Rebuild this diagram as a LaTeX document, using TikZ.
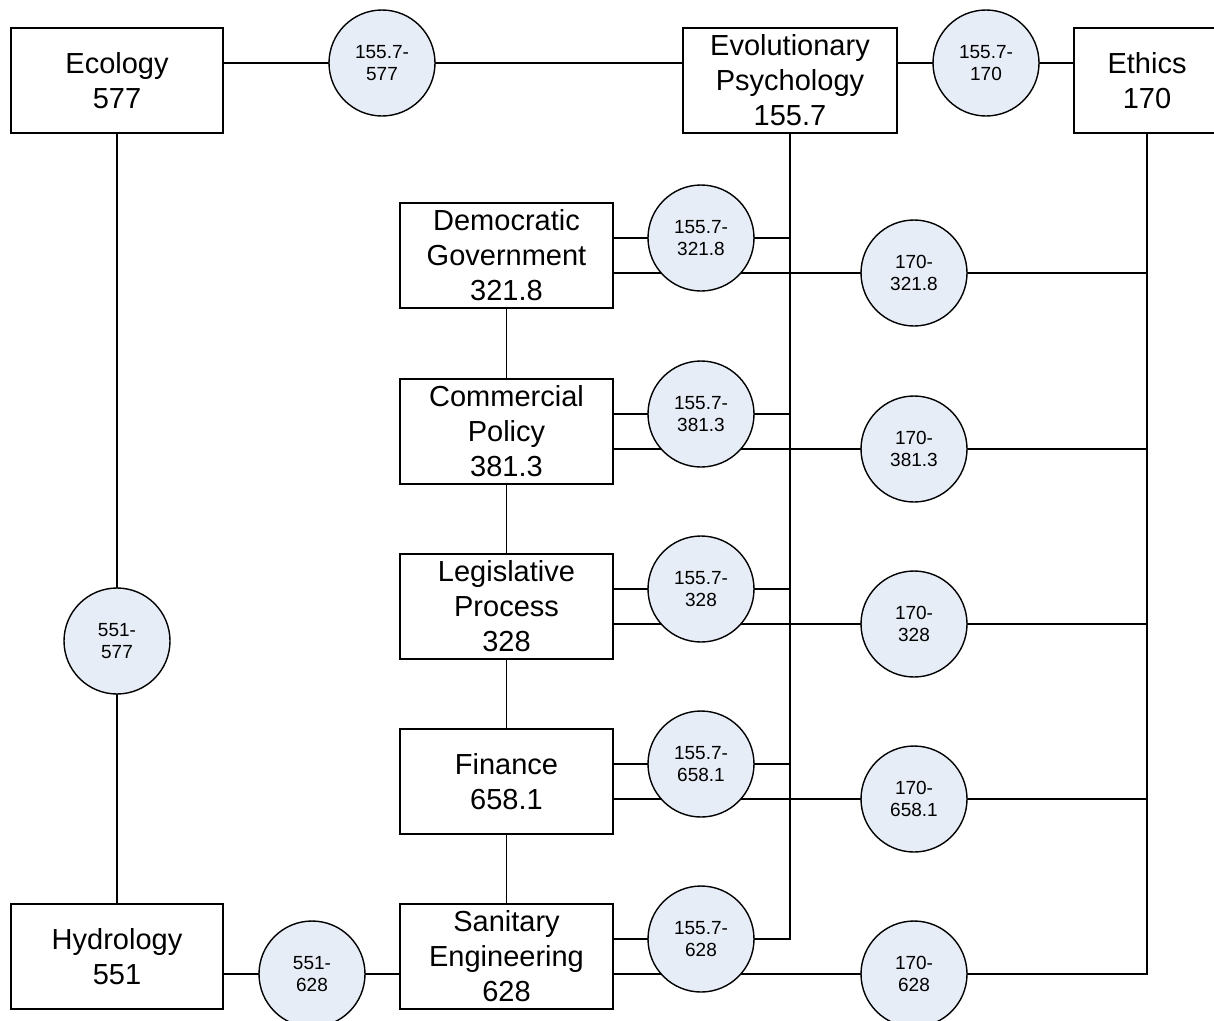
\documentclass[tikz,border=0pt]{standalone}
\usepackage{fontspec}
\setmainfont{Liberation Sans}
\usetikzlibrary{backgrounds}
\definecolor{linkfill}{RGB}{231,237,247}
\begin{document}
\begin{tikzpicture}[x=1pt,y=-1pt,
  topic/.style={draw, fill=white, line width=1.4pt, minimum height=105pt,
    minimum width=213pt, inner sep=0pt, align=center,
    font=\fontsize{29}{35}\selectfont},
  link/.style={circle, draw, fill=linkfill, line width=1.4pt,
    minimum size=106pt, inner sep=0pt, align=center,
    font=\fontsize{19}{22}\selectfont},
  wire/.style={line width=1.4pt, line join=miter}]
\useasboundingbox (0,0) rectangle (1214,1020);
\clip (0,0) rectangle (1214,1020);

% subject boxes
\node[topic, minimum width=212pt] (eco) at (117,80.5) {Ecology\\577};
\node[topic, minimum width=214pt] (evo) at (790,80.5) {Evolutionary\\Psychology\\155.7};
\node[topic, minimum width=146pt] (eth) at (1147,80.5) {Ethics\\170};
\node[topic, minimum width=212pt] (hyd) at (117,956.5) {Hydrology\\551};
\node[topic] (dem) at (506.5,255.5) {Democratic\\Government\\321.8};
\node[topic] (com) at (506.5,431.5) {Commercial\\Policy\\381.3};
\node[topic] (leg) at (506.5,606.5) {Legislative\\Process\\328};
\node[topic] (fin) at (506.5,781.5) {Finance\\658.1};
\node[topic] (san) at (506.5,956.5) {Sanitary\\Engineering\\628};

% cross-subject links
\node[link] (l1) at (382,63) {155.7-\\577};
\node[link] (l2) at (986,63) {155.7-\\170};
\node[link] (l3) at (117,641) {551-\\577};
\node[link] (l4) at (312,974) {551-\\628};

\node[link] (a1) at (701,238) {155.7-\\321.8};
\node[link] (a2) at (701,414) {155.7-\\381.3};
\node[link] (a3) at (701,589) {155.7-\\328};
\node[link] (a4) at (701,764) {155.7-\\658.1};
\node[link] (a5) at (701,939) {155.7-\\628};

\node[link] (b1) at (914,273) {170-\\321.8};
\node[link] (b2) at (914,449) {170-\\381.3};
\node[link] (b3) at (914,624) {170-\\328};
\node[link] (b4) at (914,799) {170-\\658.1};
\node[link] (b5) at (914,974) {170-\\628};

% connectors behind the shapes
\begin{scope}[on background layer]
  \draw[wire] (eco.east |- l1) -- (evo.west |- l1);
  \draw[wire] (evo.east |- l2) -- (eth.west |- l2);
  \draw[wire] (eco.south) -- (hyd.north);
  \draw[wire] (hyd.east |- l4) -- (san.west |- l4);
  \draw[wire] (dem) -- (com) -- (leg) -- (fin) -- (san);
  \draw[wire] (evo.south) -- (evo |- a5) -- (san.east |- a5);
  \draw[wire] (eth.south) -- (eth |- b5) -- (san.east |- b5);
  \foreach \b/\n in {dem/1, com/2, leg/3, fin/4} {
    \draw[wire] (\b.east |- a\n) -- (evo |- a\n);
    \draw[wire] (\b.east |- b\n) -- (eth |- b\n);
  }
\end{scope}
\end{tikzpicture}
\end{document}
